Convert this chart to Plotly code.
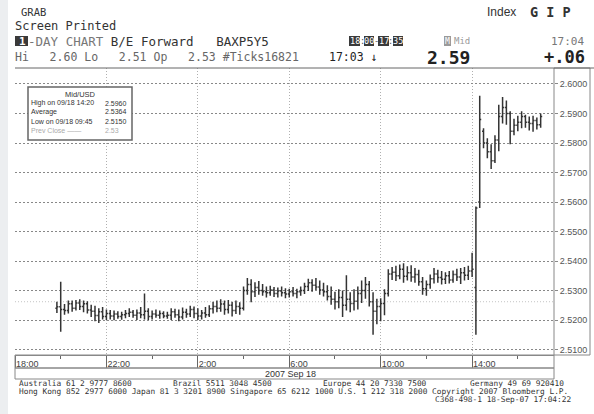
import pandas as pd
import plotly.graph_objects as go

# 10-minute bars, Mid/USD, 17-18 Sep 2007
bar_open = [
    2.5240, 2.5245, 2.5236, 2.5232, 2.5255, 2.5240, 2.5258, 2.5246, 2.5255, 2.5234,
    2.5230, 2.5215, 2.5228, 2.5212, 2.5222, 2.5214, 2.5220, 2.5212, 2.5218, 2.5222,
    2.5226, 2.5216, 2.5224, 2.5218, 2.5230, 2.5212, 2.5220, 2.5216, 2.5222, 2.5214,
    2.5216, 2.5228, 2.5218, 2.5210, 2.5226, 2.5220, 2.5236, 2.5222, 2.5214, 2.5224,
    2.5218, 2.5238, 2.5246, 2.5240, 2.5254, 2.5236, 2.5250, 2.5232, 2.5246, 2.5240,
    2.5300, 2.5320, 2.5296, 2.5310, 2.5300, 2.5296, 2.5292, 2.5302, 2.5290, 2.5298,
    2.5292, 2.5288, 2.5296, 2.5290, 2.5296, 2.5300, 2.5314, 2.5326, 2.5318, 2.5312,
    2.5302, 2.5296, 2.5280, 2.5270, 2.5262, 2.5276, 2.5250, 2.5270, 2.5256, 2.5264,
    2.5290, 2.5300, 2.5320, 2.5262, 2.5230, 2.5246, 2.5256, 2.5290, 2.5356, 2.5362,
    2.5350, 2.5372, 2.5348, 2.5360, 2.5346, 2.5354, 2.5330, 2.5306, 2.5320, 2.5340,
    2.5356, 2.5344, 2.5338, 2.5350, 2.5336, 2.5354, 2.5346, 2.5360, 2.5352, 2.5366,
    2.5310, 2.5600, 2.5840, 2.5800, 2.5770, 2.5740, 2.5810, 2.5890, 2.5920, 2.5900,
    2.5840, 2.5860, 2.5870, 2.5890, 2.5870, 2.5866, 2.5876, 2.5862,
]
bar_high = [
    2.5262, 2.5330, 2.5254, 2.5266, 2.5266, 2.5268, 2.5270, 2.5266, 2.5264, 2.5252,
    2.5248, 2.5240, 2.5244, 2.5236, 2.5234, 2.5232, 2.5230, 2.5228, 2.5234, 2.5240,
    2.5234, 2.5236, 2.5244, 2.5290, 2.5240, 2.5232, 2.5236, 2.5232, 2.5230, 2.5228,
    2.5240, 2.5238, 2.5236, 2.5242, 2.5238, 2.5248, 2.5246, 2.5240, 2.5234, 2.5244,
    2.5250, 2.5262, 2.5266, 2.5270, 2.5266, 2.5268, 2.5262, 2.5266, 2.5260, 2.5314,
    2.5342, 2.5338, 2.5328, 2.5332, 2.5322, 2.5314, 2.5316, 2.5312, 2.5310, 2.5314,
    2.5308, 2.5306, 2.5312, 2.5306, 2.5314, 2.5326, 2.5340, 2.5338, 2.5342, 2.5334,
    2.5326, 2.5318, 2.5314, 2.5296, 2.5304, 2.5300, 2.5352, 2.5294, 2.5304, 2.5314,
    2.5334, 2.5346, 2.5332, 2.5294, 2.5272, 2.5274, 2.5304, 2.5372, 2.5380, 2.5384,
    2.5388, 2.5392, 2.5382, 2.5386, 2.5376, 2.5370, 2.5346, 2.5334, 2.5354, 2.5376,
    2.5370, 2.5366, 2.5362, 2.5366, 2.5368, 2.5374, 2.5376, 2.5380, 2.5384, 2.5428,
    2.5585, 2.5960, 2.5850, 2.5816, 2.5796, 2.5826, 2.5930, 2.5956, 2.5944, 2.5908,
    2.5882, 2.5892, 2.5908, 2.5896, 2.5890, 2.5892, 2.5886, 2.5900,
]
bar_low = [
    2.5224, 2.5160, 2.5218, 2.5222, 2.5228, 2.5232, 2.5234, 2.5226, 2.5222, 2.5210,
    2.5196, 2.5190, 2.5202, 2.5200, 2.5202, 2.5199, 2.5204, 2.5201, 2.5206, 2.5210,
    2.5208, 2.5200, 2.5206, 2.5202, 2.5200, 2.5202, 2.5208, 2.5204, 2.5206, 2.5204,
    2.5200, 2.5208, 2.5196, 2.5202, 2.5208, 2.5210, 2.5206, 2.5200, 2.5202, 2.5208,
    2.5210, 2.5222, 2.5226, 2.5228, 2.5218, 2.5222, 2.5212, 2.5220, 2.5218, 2.5232,
    2.5286, 2.5260, 2.5278, 2.5286, 2.5282, 2.5276, 2.5282, 2.5278, 2.5276, 2.5280,
    2.5274, 2.5276, 2.5280, 2.5274, 2.5282, 2.5288, 2.5298, 2.5296, 2.5302, 2.5286,
    2.5280, 2.5266, 2.5252, 2.5236, 2.5240, 2.5210, 2.5232, 2.5226, 2.5232, 2.5236,
    2.5258, 2.5272, 2.5246, 2.5150, 2.5186, 2.5196, 2.5216, 2.5280, 2.5336, 2.5332,
    2.5338, 2.5326, 2.5334, 2.5330, 2.5326, 2.5316, 2.5286, 2.5282, 2.5306, 2.5324,
    2.5326, 2.5320, 2.5322, 2.5324, 2.5326, 2.5332, 2.5322, 2.5334, 2.5336, 2.5346,
    2.5150, 2.5580, 2.5782, 2.5748, 2.5712, 2.5732, 2.5772, 2.5866, 2.5862, 2.5796,
    2.5826, 2.5840, 2.5850, 2.5852, 2.5842, 2.5838, 2.5846, 2.5852,
]
bar_close = [
    2.5245, 2.5236, 2.5232, 2.5255, 2.5240, 2.5258, 2.5246, 2.5255, 2.5234, 2.5230,
    2.5215, 2.5228, 2.5212, 2.5222, 2.5214, 2.5220, 2.5212, 2.5218, 2.5222, 2.5226,
    2.5216, 2.5224, 2.5218, 2.5230, 2.5212, 2.5220, 2.5216, 2.5222, 2.5214, 2.5216,
    2.5228, 2.5218, 2.5210, 2.5226, 2.5220, 2.5236, 2.5222, 2.5214, 2.5224, 2.5218,
    2.5238, 2.5246, 2.5240, 2.5254, 2.5236, 2.5250, 2.5232, 2.5246, 2.5240, 2.5300,
    2.5320, 2.5296, 2.5310, 2.5300, 2.5296, 2.5292, 2.5302, 2.5290, 2.5298, 2.5292,
    2.5288, 2.5296, 2.5290, 2.5296, 2.5300, 2.5314, 2.5326, 2.5318, 2.5312, 2.5302,
    2.5296, 2.5280, 2.5270, 2.5262, 2.5276, 2.5250, 2.5270, 2.5256, 2.5264, 2.5290,
    2.5300, 2.5320, 2.5262, 2.5230, 2.5246, 2.5256, 2.5290, 2.5356, 2.5362, 2.5350,
    2.5372, 2.5348, 2.5360, 2.5346, 2.5354, 2.5330, 2.5306, 2.5320, 2.5340, 2.5356,
    2.5344, 2.5338, 2.5350, 2.5336, 2.5354, 2.5346, 2.5360, 2.5352, 2.5366, 2.5372,
    2.5580, 2.5880, 2.5800, 2.5770, 2.5740, 2.5810, 2.5890, 2.5920, 2.5900, 2.5840,
    2.5860, 2.5870, 2.5890, 2.5870, 2.5866, 2.5876, 2.5862, 2.5890,
]
bar_time = pd.date_range('2007-09-17 19:50', periods=len(bar_close), freq='10min')

prev_close = 2.5262
y_ticks = [2.51, 2.52, 2.53, 2.54, 2.55, 2.56, 2.57, 2.58, 2.59, 2.60]
x_ticks = ['2007-09-17 18:00', '2007-09-17 22:00', '2007-09-18 02:00',
           '2007-09-18 06:00', '2007-09-18 10:00', '2007-09-18 14:00']
x_tick_text = ['18:00', '22:00', '2:00', '6:00', '10:00', '14:00']
x_minor = ['2007-09-17 20:00', '2007-09-18 00:00', '2007-09-18 04:00',
           '2007-09-18 08:00', '2007-09-18 12:00', '2007-09-18 16:00']
x_range = ['2007-09-17 18:00', '2007-09-18 17:35']

legend_rows = [('High on 09/18 14:20', '2.5960'),
               ('Average', '2.5364'),
               ('Low on 09/18 09:45', '2.5150')]

MONO = 'DejaVu Sans Mono'
SANS = 'Liberation Sans'

# page geometry in pixels
W, H = 594, 414
L, R, T, B = 15, 554, 68, 355


def px(x):
    return (x - L) / (R - L)


def py(y):
    return (B - y) / (B - T)


fig = go.Figure()
fig.add_trace(go.Ohlc(
    x=bar_time, open=bar_open, high=bar_high, low=bar_low, close=bar_close,
    increasing=dict(line=dict(color='#333333', width=1.5)),
    decreasing=dict(line=dict(color='#333333', width=1.5)),
    tickwidth=0.4, showlegend=False, hoverinfo='skip'))


def box(x0, x1, y0, y1, fill, line=None, lw=0):
    return dict(type='rect', xref='paper', yref='paper', x0=px(x0), x1=px(x1),
                y0=py(y1), y1=py(y0), fillcolor=fill,
                line=dict(color=line or fill, width=lw))


# highlighted header cells: (left, right, text)
time_cells = [(349, 360, '18'), (364, 374, '00'), (378, 389, '17'), (393, 403, '35')]
time_seps = [(362, ':'), (376, '-'), (391, ':')]

shapes = [
    # prev close
    dict(type='line', xref='paper', yref='y', x0=0, x1=1, y0=prev_close, y1=prev_close,
         line=dict(color='#c4c4c4', width=1, dash='1px,2px'), layer='below'),
    # right axis panel
    box(R, 590, T, B, 'rgba(0,0,0,0)', '#888', 1),
    # x label boxes
    box(L, R, B, 368, 'rgba(0,0,0,0)', '#888', 1),
    box(L, R, 368, 379, 'rgba(0,0,0,0)', '#888', 1),
    # header rule
    dict(type='line', xref='paper', yref='paper', x0=0, x1=px(594), y0=py(T), y1=py(T),
         line=dict(color='#666', width=1)),
    # legend box
    box(28, 132, 87, 140, 'white', '#666', 1.5),
    # grey page edge
    box(0, 8, 0, H, '#eceef0'),
    box(15, 28, 36, 46, '#3a3a3a'),
    box(444, 451, 36, 46, '#9a9a9a'),
] + [box(a, b, 36, 46, '#3a3a3a') for a, b, _ in time_cells]

ann = []


def text(x, y, s, size=12, color='#333', family=MONO, anchor='left'):
    ann.append(dict(x=px(x), y=py(y), xref='paper', yref='paper', text=s, showarrow=False,
                    xanchor=anchor, yanchor='middle', borderpad=0,
                    font=dict(family=family, size=size, color=color)))


# header
text(20, 12, 'GRAB', size=10.5, color='#333')
text(14, 26, 'Screen Printed', size=12, color='#333')
text(27, 41, '<b>1</b>', size=11, color='white', anchor='right')
text(27, 41, "<span style='color:#777'>-DAY CHART</span> B/E Forward   BAXP5Y5",
     size=12.5, color='#333')
text(14, 57, 'Hi   2.60 Lo   2.51 Op   2.53 #Ticks16821', size=11.5, color='#666')
text(486, 12, 'Index', size=12, color='#333', family=SANS)
text(529, 12, '<b>G I P</b>', size=13.5, color='#333', family=MONO)
for a, b, s in time_cells:
    text((a + b) / 2, 41, s, size=8.6, color='white', anchor='center')
for a, s in time_seps:
    text(a, 41, s, size=8.6, color='#555', anchor='center')
text(447.5, 41, 'M', size=8, color='white', anchor='center')
text(453, 41, 'Mid', size=9, color='#999')
text(585, 41, '17:04', size=11, color='#777', anchor='right')
text(328, 57, '17:03 \u2193', size=11.5, color='#222')
text(448, 57, '<b>2.59</b>', size=18, color='#222', anchor='center')
text(586, 57, '<b>+.06</b>', size=17, color='#222', anchor='right')

# legend box
text(80, 94, 'Mid/USD', size=7.5, color='#333', family=SANS, anchor='center')
for i, (lab, val) in enumerate(legend_rows):
    text(30, 103 + 9 * i, lab, size=7, color='#333', family=SANS)
    text(104, 103 + 9 * i, val, size=7, color='#333', family=SANS)
text(30, 130, 'Prev Close \u2014\u2014', size=7, color='#aaa', family=SANS)
text(104, 130, f'{prev_close:.2f}', size=7, color='#aaa', family=SANS)

# date row + footer
text(290, 373.5, '2007 Sep 18', size=9, color='#333', family=SANS, anchor='center')
text(18, 383, 'Australia 61 2 9777 8600', size=7.8, color='#333')
text(172, 383, 'Brazil 5511 3048 4500', size=7.8, color='#333')
text(322, 383, 'Europe 44 20 7330 7500', size=7.8, color='#333')
text(469, 383, 'Germany 49 69 920410', size=7.8, color='#333')
text(18, 391, 'Hong Kong 852 2977 6000 Japan 81 3 3201 8900 Singapore 65 6212 1000 '
     'U.S. 1 212 318 2000 Copyright 2007 Bloomberg L.P.', size=7.8, color='#333')
text(572, 399, 'C368-498-1 18-Sep-07 17:04:22', size=7.8, color='#333', anchor='right')

fig.update_layout(
    width=W, height=H,
    margin=dict(l=L, r=W - R, t=T, b=H - B),
    paper_bgcolor='white', plot_bgcolor='white',
    showlegend=False,
    shapes=shapes, annotations=ann,
    xaxis=dict(type='date', range=x_range, rangeslider=dict(visible=False),
               tickvals=x_ticks, ticktext=x_tick_text, ticklabelposition='outside right',
               ticks='outside', ticklen=12, tickcolor='#666', automargin=False,
               minor=dict(tickvals=x_minor, ticks='outside', ticklen=3, tickcolor='#666'),
               showgrid=True, gridcolor='#b0b0b0', griddash='1px,2px', gridwidth=1,
               showline=True, linecolor='#888', mirror=False,
               tickfont=dict(family=SANS, size=9, color='#444'), fixedrange=True),
    yaxis=dict(range=[2.50814, 2.60542], side='right', tickvals=y_ticks,
               ticktext=[f'{v:.4f}' for v in y_ticks], ticks='outside', ticklen=3,
               tickcolor='#888', automargin=False,
               showgrid=True, gridcolor='#888', griddash='2px,2px', gridwidth=1,
               zeroline=False, showline=False,
               tickfont=dict(family=SANS, size=9, color='#555'), fixedrange=True),
)

# the page must start at the window's top-left corner, like the screen print
fig.write_html('out.html', config={'displayModeBar': False},
               post_script="document.body.style.margin='0';")
